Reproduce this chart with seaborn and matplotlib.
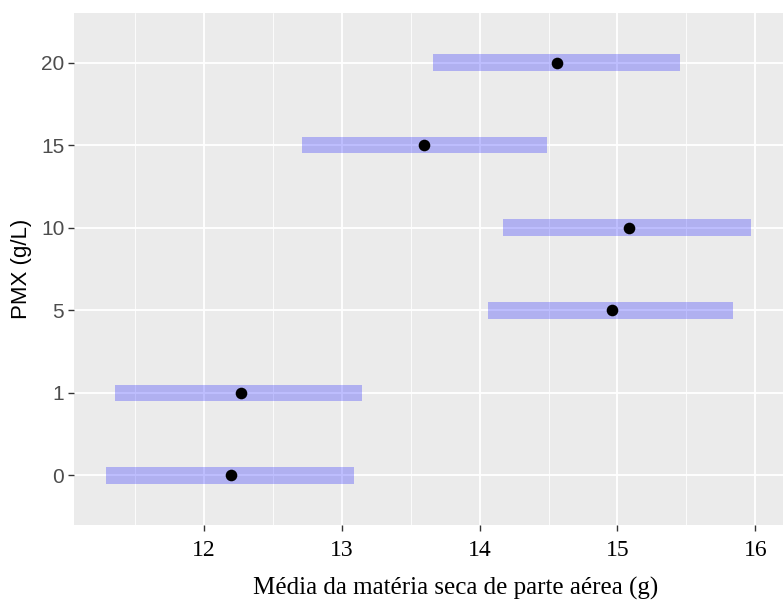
import numpy as np
import pandas as pd
import matplotlib
matplotlib.use("Agg")
import matplotlib.pyplot as plt
import seaborn as sns
from matplotlib.ticker import MultipleLocator, FixedLocator

# Data
doses = ["0", "1", "5", "10", "15", "20"]
means = [12.20, 12.27, 14.96, 15.08, 13.60, 14.56]
lower = [11.29, 11.36, 14.06, 14.17, 12.71, 13.66]
upper = [13.09, 13.15, 15.84, 15.97, 14.49, 15.45]
x_ticks = [12, 13, 14, 15, 16]

sns.set_theme(style="darkgrid", rc={
    "axes.facecolor": "#EBEBEB",
    "grid.color": "white",
})

df = pd.DataFrame({"dose": doses, "mean": means, "low": lower, "high": upper})
df["pos"] = np.arange(len(df))

fig = plt.figure(figsize=(7.83, 6.02), dpi=100)
ax = fig.add_axes([74 / 783, 1 - 525 / 602, 1 - 74 / 783, (525 - 13) / 602])

ax.barh(df["pos"], width=df["high"] - df["low"], left=df["low"], height=0.2,
        color="#0000FF", alpha=0.25, linewidth=0, zorder=2)
sns.scatterplot(data=df, x="mean", y="pos", color="black", s=70,
                edgecolor="black", linewidth=0, zorder=3, ax=ax, legend=False)

ax.set_xlim(11.06, 16.2)
ax.set_ylim(-0.6, 5.6)
ax.xaxis.set_major_locator(FixedLocator(x_ticks))
ax.xaxis.set_minor_locator(MultipleLocator(0.5))
ax.set_yticks(df["pos"])
ax.set_yticklabels(doses)
ax.set_xticklabels([str(t) for t in x_ticks])

ax.grid(which="major", color="white", linewidth=1.3)
ax.grid(which="minor", axis="x", color="white", linewidth=0.6)
ax.set_axisbelow(True)
for s in ax.spines.values():
    s.set_visible(False)

ax.tick_params(axis="both", which="major", length=4, width=1.0, color="#333333",
               bottom=True, left=True)
ax.tick_params(axis="x", which="minor", length=0)
ax.tick_params(axis="y", labelsize=15, labelcolor="#4D4D4D", pad=3)
ax.tick_params(axis="x", labelsize=17, labelcolor="black", pad=7)
for lab in ax.get_yticklabels():
    lab.set_family("Liberation Sans")
for lab in ax.get_xticklabels():
    lab.set_family("Liberation Serif")

ax.set_xlabel("Média da matéria seca de parte aérea (g)", family="Liberation Serif",
              fontsize=18, color="black", va="center")
ax.xaxis.set_label_coords((456 - 74) / 709, (525 - 588) / 512)
ax.set_ylabel("PMX (g/L)", family="Liberation Sans", fontsize=16, color="black",
              va="center")
ax.yaxis.set_label_coords((22 - 74) / 709, (525 - 269) / 512)

fig.savefig("out.png", dpi=100)
